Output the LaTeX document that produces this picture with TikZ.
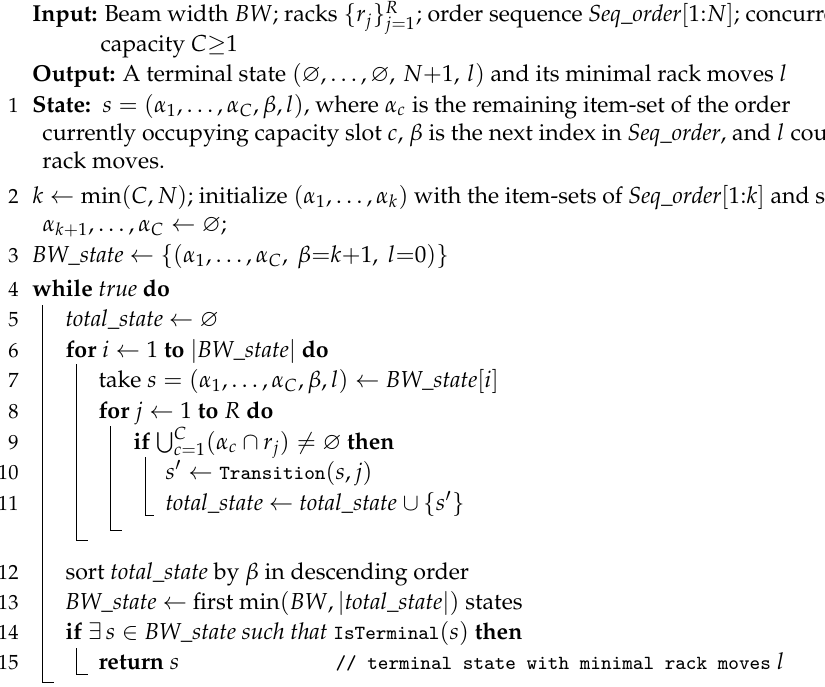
\documentclass[tikz,border=0pt]{standalone}
\usepackage[T1]{fontenc}
\usepackage{mathpazo}
\usepackage{amssymb}
\newcommand{\mytt}[1]{{\fontencoding{OT1}\fontfamily{cmtt}\fontseries{m}\fontshape{n}\fontsize{8.4}{10}\selectfont #1}}
\begin{document}
\begin{tikzpicture}[x=0.4pt,y=-0.4pt,
  ln/.style={anchor=base east,inner sep=0pt,font=\fontsize{8.2}{10}\selectfont},
  tx/.style={anchor=base west,inner sep=0pt,font=\fontsize{9.25}{11}\selectfont},
  bar/.style={line width=0.4pt}]
\useasboundingbox (0,0) rectangle (825,686);
% header
\node[tx] (in1) at (32,22) {\textbf{Input:} Beam width $BW$; racks $\{r_j\}_{j=1}^{R}$; order sequence \textit{Seq\_order}$[1{:}N]$; concurrent};
\node[tx] (in2) at (100,52) {capacity $C{\geq}1$};
\node[tx] (out) at (32,82) {\textbf{Output:} A terminal state $(\varnothing,\dots,\varnothing,\,N{+}1,\,l)$ and its minimal rack moves $l$};
% line 1
\node[ln] (n1) at (19,112) {1};
\node[tx] (l1a) at (32,112) {\textbf{State:}\ \ $s=(\alpha_1,\dots,\alpha_C,\beta,l)$, where $\alpha_c$ is the remaining item-set of the order};
\node[tx] (l1b) at (42,140) {currently occupying capacity slot $c$, $\beta$ is the next index in \textit{Seq\_order}, and $l$ counts};
\node[tx] (l1c) at (42,168) {rack moves.};
% line 2
\node[ln] (n2) at (19,203) {2};
\node[tx] (l2a) at (32,203) {$k\leftarrow\min(C,N)$; initialize $(\alpha_1,\dots,\alpha_k)$ with the item-sets of \textit{Seq\_order}$[1{:}k]$ and set};
\node[tx] (l2b) at (42,231) {$\alpha_{k+1},\dots,\alpha_C\leftarrow\varnothing$;};
% line 3
\node[ln] (n3) at (19,262) {3};
\node[tx] (l3) at (32,262) {\textit{BW\_state} $\leftarrow\{(\alpha_1,\dots,\alpha_C,\ \beta{=}k{+}1,\ l{=}0)\}$};
% line 4
\node[ln] (n4) at (19,296) {4};
\node[tx] (l4) at (32,296) {\textbf{while} \textit{true} \textbf{do}};
\node[ln] (n5) at (19,326) {5};
\node[tx] (l5) at (65,326) {\textit{total\_state} $\leftarrow\varnothing$};
\node[ln] (n6) at (19,357) {6};
\node[tx] (l6) at (65,357) {\textbf{for} $i\leftarrow 1$ \textbf{to} $|\textit{BW\_state}|$ \textbf{do}};
\node[ln] (n7) at (19,387) {7};
\node[tx] (l7) at (98,387) {take $s=(\alpha_1,\dots,\alpha_C,\beta,l)\leftarrow \textit{BW\_state}[i]$};
\node[ln] (n8) at (19,418) {8};
\node[tx] (l8) at (98,418) {\textbf{for} $j\leftarrow1$ \textbf{to} $R$ \textbf{do}};
\node[ln] (n9) at (19,449) {9};
\node[tx] (l9) at (133,449) {\textbf{if} $\bigcup_{c=1}^{C}(\alpha_c\cap r_j)\neq\varnothing$ \textbf{then}};
\node[ln] (n10) at (19,479) {10};
\node[tx] (l10) at (165,479) {$s'\leftarrow{}$\mytt{Transition}$(s,j)$};
\node[ln] (n11) at (19,510) {11};
\node[tx] (l11) at (165,510) {\textit{total\_state} $\leftarrow$ \textit{total\_state} $\cup\,\{s'\}$};
\node[ln] (n12) at (19,579) {12};
\node[tx] (l12) at (65,579) {sort \textit{total\_state} by $\beta$ in descending order};
\node[ln] (n13) at (19,609) {13};
\node[tx] (l13) at (65,609) {\textit{BW\_state} $\leftarrow$ first $\min(BW,|\textit{total\_state}|)$ states};
\node[ln] (n14) at (19,639) {14};
\node[tx] (l14) at (65,639) {\textbf{if} $\exists\, s\in\textit{BW\_state}$ \textit{such that} \mytt{IsTerminal}$(s)$ \textbf{then}};
\node[ln] (n15) at (19,669) {15};
\node[tx] (l15) at (98,669) {\textbf{return} $s$};
\node[tx] (c15) at (335,669) {\mytt{// terminal state with minimal rack moves} $l$};
% block bars
\draw[bar] (42,305) -- (42,682) -- (54,682);
\draw[bar] (76,364) -- (76,540) -- (88,540);
\draw[bar] (110,426) -- (110,530) -- (122,530);
\draw[bar] (145,457) -- (145,515) -- (154,515);
\draw[bar] (76,648) -- (76,674) -- (88,674);
\end{tikzpicture}
\end{document}
